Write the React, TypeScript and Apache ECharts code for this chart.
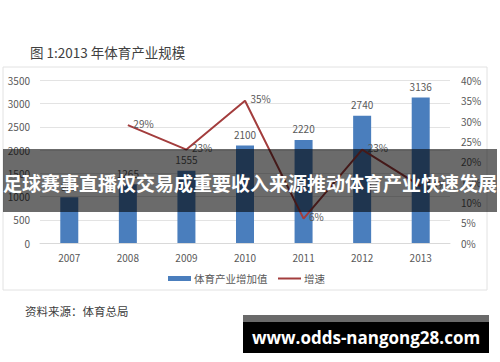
import React, { useEffect, useRef } from "react";
import * as echarts from "echarts";

const years = ["2007", "2008", "2009", "2010", "2011", "2012", "2013"];
const addedValue = [983, 1265, 1555, 2100, 2220, 2740, 3136];
const growth: (number | null)[] = [null, 29, 23, 35, 6, 23, 14];

const FONT = "'Noto Sans CJK SC', 'Noto Sans', sans-serif";
const GRAY = "#595959";
const BLUE = "#4a7ebd";
const RED = "#a33d3d";

export default function App() {
  const ref = useRef<HTMLDivElement>(null);
  useEffect(() => {
    if (!ref.current) return;
    const chart = echarts.init(ref.current, null, { renderer: "svg" });
    chart.setOption({
      animation: false,
      backgroundColor: "#ffffff",
      textStyle: { fontFamily: FONT },
      grid: { left: 40, right: 50, top: 80.5, height: 162.5 },
      xAxis: {
        type: "category",
        data: years,
        axisLine: { lineStyle: { color: "#d9d9d9" } },
        axisTick: { show: false },
        axisLabel: { color: GRAY, fontSize: 10, margin: 9 },
      },
      yAxis: [
        {
          type: "value",
          min: 0,
          max: 3500,
          interval: 500,
          axisLine: { show: false },
          axisTick: { show: false },
          splitLine: { lineStyle: { color: "#e3e3e3" } },
          axisLabel: {
            color: GRAY,
            fontSize: 10,
            margin: 10,
            formatter: (v: number) => String(v),
          },
        },
        {
          type: "value",
          min: 0,
          max: 40,
          interval: 5,
          axisLine: { show: false },
          axisTick: { show: false },
          splitLine: { show: false },
          axisLabel: { color: GRAY, fontSize: 10, margin: 11, formatter: "{value}%" },
        },
      ],
      series: [
        {
          name: "体育产业增加值",
          type: "bar",
          data: addedValue,
          barWidth: 18,
          itemStyle: { color: BLUE },
          label: { show: true, position: "top", color: GRAY, fontSize: 10, distance: 6 },
          z: 2,
        },
        {
          name: "增速",
          type: "line",
          yAxisIndex: 1,
          data: growth,
          symbol: "circle",
          symbolSize: 1,
          showSymbol: true,
          lineStyle: { color: RED, width: 2 },
          itemStyle: { color: RED, opacity: 0 },
          label: {
            show: true,
            position: "right",
            distance: 5,
            offset: [0, -2],
            color: GRAY,
            fontSize: 10,
            opacity: 1,
            formatter: "{c}%",
          },
          z: 3,
        },
      ],
      graphic: [
        {
          type: "rect",
          shape: { x: 3, y: 67, width: 484, height: 223 },
          style: { fill: "none", stroke: "#e2e2e2", lineWidth: 1 },
          z: 0,
        },
        {
          type: "text",
          x: 30,
          y: 52,
          style: {
            text: "图 1:2013 年体育产业规模",
            fill: "#404040",
            fontSize: 13.5,
            fontFamily: FONT,
            verticalAlign: "middle",
          },
        },
        {
          type: "rect",
          shape: { x: 168, y: 276, width: 23, height: 5 },
          style: { fill: BLUE },
        },
        {
          type: "text",
          x: 194,
          y: 278.5,
          style: {
            text: "体育产业增加值",
            fill: GRAY,
            fontSize: 10.5,
            fontFamily: FONT,
            verticalAlign: "middle",
          },
        },
        {
          type: "line",
          shape: { x1: 278, y1: 278.5, x2: 301, y2: 278.5 },
          style: { stroke: RED, lineWidth: 2 },
        },
        {
          type: "text",
          x: 304,
          y: 278.5,
          style: {
            text: "增速",
            fill: GRAY,
            fontSize: 10.5,
            fontFamily: FONT,
            verticalAlign: "middle",
          },
        },
        {
          type: "text",
          x: 25,
          y: 311,
          style: {
            text: "资料来源：体育总局",
            fill: "#404040",
            fontSize: 11.5,
            fontFamily: FONT,
            verticalAlign: "middle",
          },
        },
        {
          type: "rect",
          shape: { x: 3, y: 149, width: 494, height: 63 },
          style: { fill: "rgba(0,0,0,0.58)" },
          z: 100,
        },
        {
          type: "text",
          x: 250,
          y: 182,
          style: {
            text: "足球赛事直播权交易成重要收入来源推动体育产业快速发展",
            fill: "#ffffff",
            fontSize: 19,
            fontWeight: "bold",
            fontFamily: FONT,
            align: "center",
            verticalAlign: "middle",
          },
          z: 101,
        },
        {
          type: "rect",
          shape: { x: 243, y: 315, width: 246, height: 7 },
          style: { fill: "#6a6a6a" },
          z: 100,
        },
        {
          type: "rect",
          shape: { x: 243, y: 322, width: 246, height: 31 },
          style: { fill: "#000000" },
          z: 100,
        },
        {
          type: "text",
          x: 366,
          y: 337.5,
          style: {
            text: "www.odds-nangong28.com",
            fill: "#ffffff",
            fontSize: 17,
            fontWeight: "bold",
            fontFamily: "'Open Sans', 'DejaVu Sans', sans-serif",
            align: "center",
            verticalAlign: "middle",
          },
          z: 101,
        },
      ],
    });
    return () => chart.dispose();
  }, []);
  return (
    <div
      ref={ref}
      style={{ position: "fixed", left: 0, top: 0, width: 500, height: 362, background: "#fff" }}
    />
  );
}
